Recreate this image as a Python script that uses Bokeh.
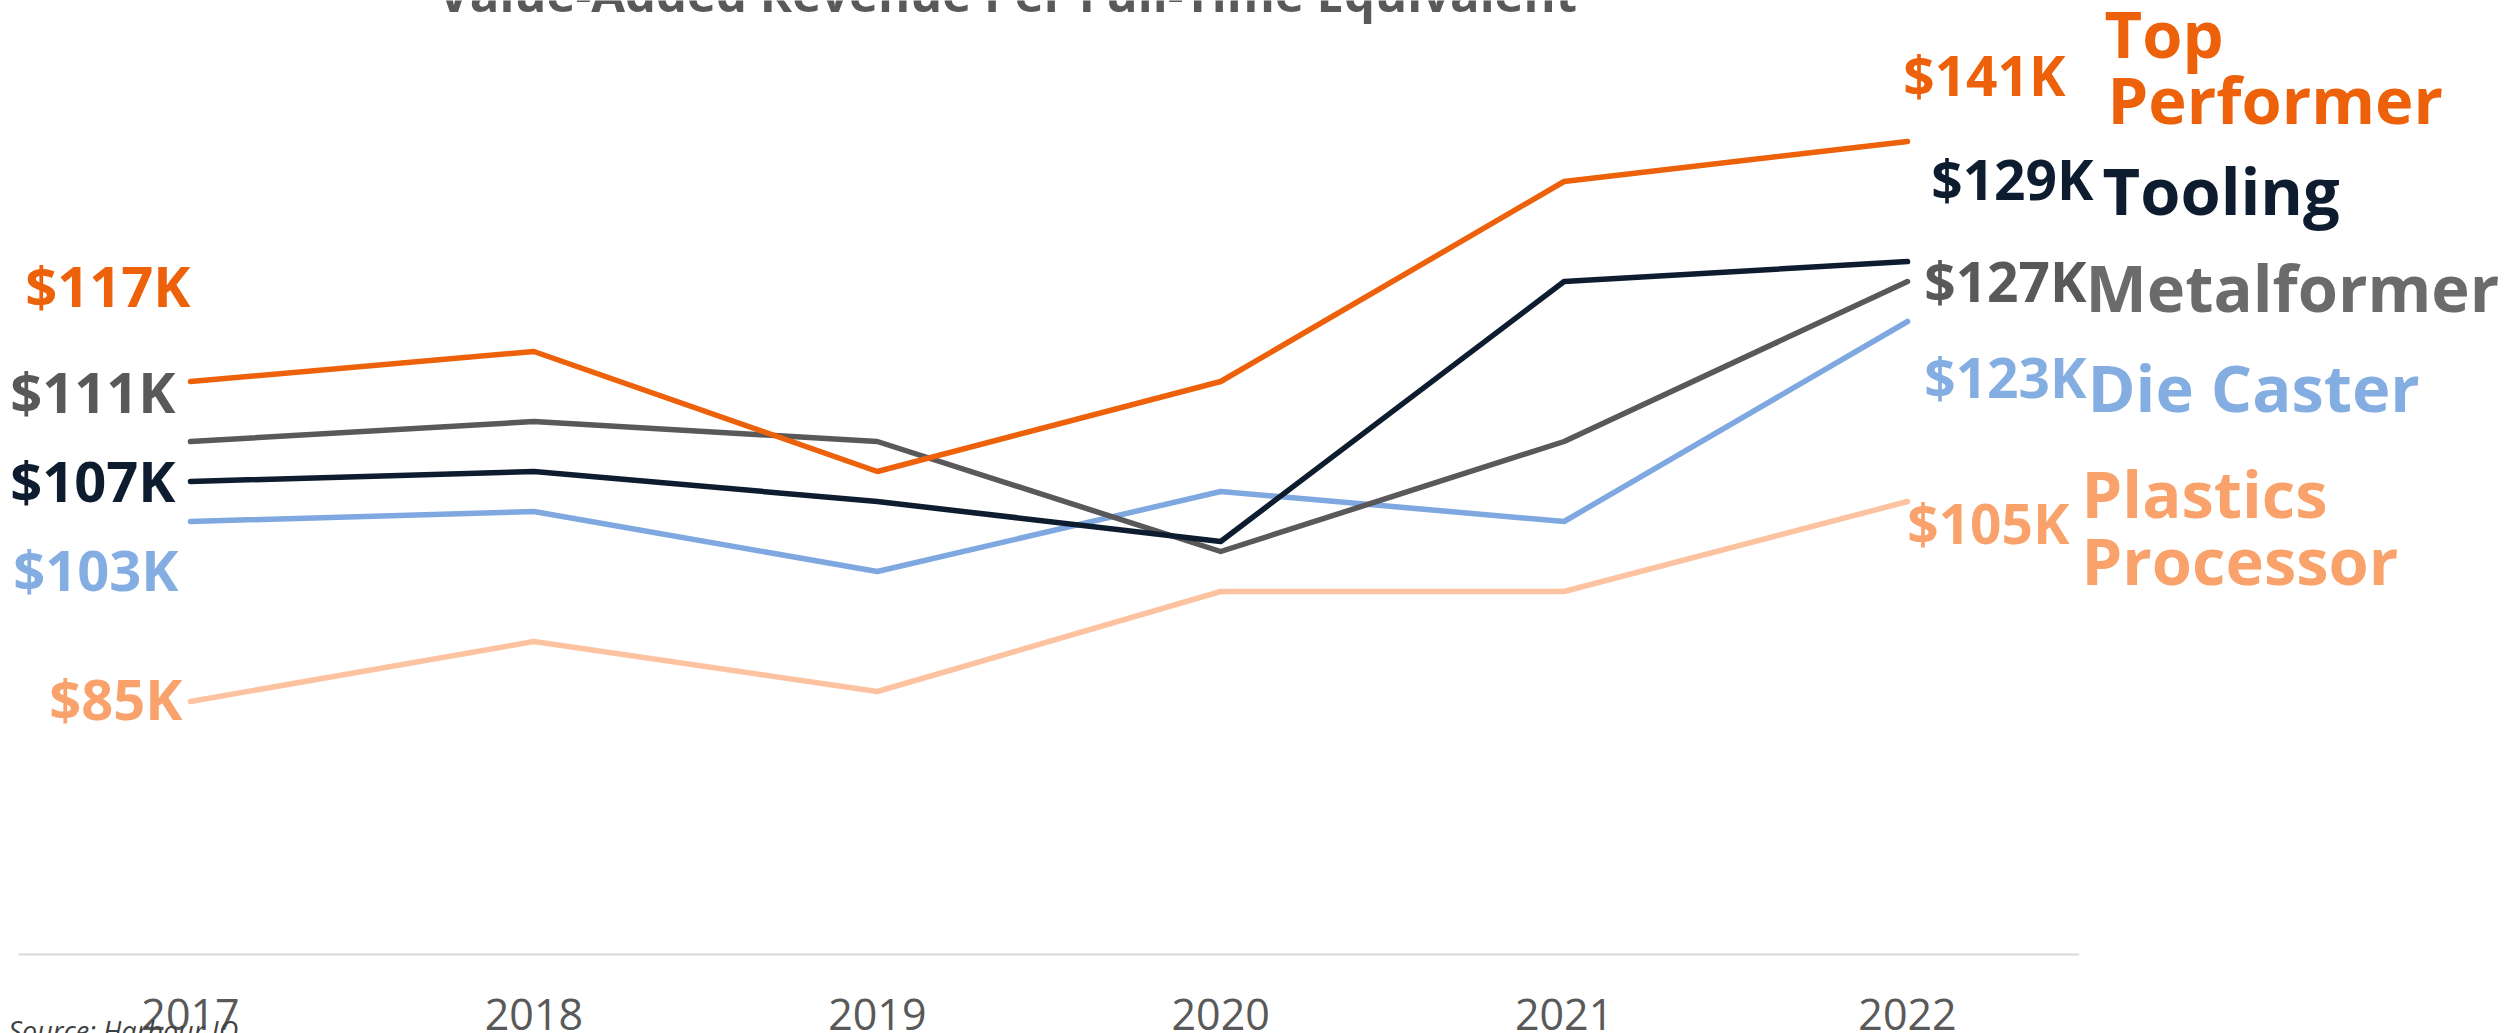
from bokeh.plotting import figure
from bokeh.models import ColumnDataSource, Range1d, Label
from bokeh.core.properties import value
from bokeh.embed import file_html
from bokeh.resources import INLINE

# ---------------- data ----------------
years = [2017, 2018, 2019, 2020, 2021, 2022]
year_labels = ["2017", "2018", "2019", "2020", "2021", "2022"]

series_names = ["Top Performer", "Tooling", "Metalformer", "Die Caster", "Plastics Processor"]
top_performer = [117, 120, 108, 117, 137, 141]
tooling = [107, 108, 105, 101, 127, 129]
metalformer = [111, 113, 111, 100, 111, 127]
die_caster = [103, 104, 98, 106, 103, 123]
plastics_processor = [85, 91, 86, 96, 96, 105]

title_text = "Value-Added Revenue Per Full-Time Equivalent"
source_text = "Source: Harbour IQ"

# ---------------- styling ----------------
series_values = [top_performer, tooling, metalformer, die_caster, plastics_processor]
line_colors = ["#EC610A", "#0E1C2F", "#595959", "#7EA8DF", "#FDC2A0"]
value_colors = ["#EC610A", "#0E1C2F", "#595959", "#84AEE2", "#F9A26B"]
name_colors = ["#EC610A", "#0E1C2F", "#6B6B6B", "#84AEE2", "#F9A26B"]

# label offsets in screen pixels (x right, y down), same order as series_names
left_xoff = [0, -15, -15, -12, -8]
left_yoff = [-97, -2, -51, 47, -4]
right_val_xoff = [158, 186, 179, 179, 162]
right_val_yoff = [-67, -83, -1, 55, 21]
wrapped = [["Top", "Performer"], ["Tooling"], ["Metalformer"], ["Die Caster"], ["Plastics", "Processor"]]
name_lines_xoff = [[197, 200], [195], [178], [180], [174, 174]]
name_lines_yoff = [[-109, -43], [-72], [5], [65], [-9, 58]]

W, H = 2517, 1033
PX_PER_YEAR = 343.4
X_FIRST_PX = 190.0
PX_PER_K = 10.0
AXIS_PX = 954.0                      # y of the category axis line
Y_TOP_VAL = 117 + 381 / PX_PER_K     # value at top edge

x0 = years[0] - X_FIRST_PX / PX_PER_YEAR
x1 = x0 + W / PX_PER_YEAR
y1 = Y_TOP_VAL
y0 = y1 - H / PX_PER_K
axis_val = y1 - AXIS_PX / PX_PER_K
axis_lo = years[0] - 0.5             # category axis spans half a category beyond the ends
axis_hi = years[-1] + 0.5

p = figure(width=W, height=H, x_range=Range1d(x0, x1), y_range=Range1d(y0, y1),
           output_backend="svg", toolbar_location=None, min_border=0,
           x_axis_location=None, y_axis_location=None)
p.outline_line_color = None
p.grid.visible = False
p.background_fill_color = "white"
p.border_fill_color = "white"

# category axis line and year labels
p.segment(x0=[axis_lo], y0=[axis_val], x1=[axis_hi], y1=[axis_val],
          line_color="#D9D9D9", line_width=2)
p.text(x=years, y=[axis_val] * len(years), text=year_labels, y_offset=60,
       text_align="center", text_baseline="alphabetic", text_color="#595959",
       text_font=value("Open Sans"), text_font_size="43px")

# lines (drawn bottom to top)
for idx in [4, 3, 2, 1, 0]:
    p.line(years, series_values[idx], line_color=line_colors[idx], line_width=5.5,
           line_cap="round", line_join="round")

# left value labels
src_left = ColumnDataSource(dict(
    x=[years[0]] * 5,
    y=[v[0] for v in series_values],
    text=[f"${v[0]}K" for v in series_values],
    color=value_colors, xo=left_xoff, yo=left_yoff))
p.text(x="x", y="y", text="text", source=src_left, text_color="color",
       x_offset="xo", y_offset="yo", text_align="right", text_baseline="alphabetic",
       text_font=value("Open Sans"), text_font_style="bold", text_font_size="56px")

# right value labels
src_right = ColumnDataSource(dict(
    x=[years[-1]] * 5,
    y=[v[-1] for v in series_values],
    text=[f"${v[-1]}K" for v in series_values],
    color=value_colors, xo=right_val_xoff, yo=right_val_yoff))
p.text(x="x", y="y", text="text", source=src_right, text_color="color",
       x_offset="xo", y_offset="yo", text_align="right", text_baseline="alphabetic",
       text_font=value("Open Sans"), text_font_style="bold", text_font_size="55px")

# series names (wrapped to lines as in the original)
name_rows = dict(x=[], y=[], text=[], color=[], xo=[], yo=[])
for i, parts in enumerate(wrapped):
    for j, part in enumerate(parts):
        name_rows["x"].append(years[-1])
        name_rows["y"].append(series_values[i][-1])
        name_rows["text"].append(part)
        name_rows["color"].append(name_colors[i])
        name_rows["xo"].append(name_lines_xoff[i][j])
        name_rows["yo"].append(name_lines_yoff[i][j])
p.text(x="x", y="y", text="text", source=ColumnDataSource(name_rows), text_color="color",
       x_offset="xo", y_offset="yo", text_align="left", text_baseline="alphabetic",
       text_font=value("Open Sans"), text_font_style="bold", text_font_size="65px")

# title (partly cut by the top edge) and source note (partly cut by the bottom edge)
p.add_layout(Label(x=1007, y=H + 8, x_units="screen", y_units="screen",
                   text=title_text, text_align="center", text_baseline="alphabetic",
                   text_font="Open Sans", text_font_style="bold", text_font_size="49px",
                   text_color="#595959"))
p.add_layout(Label(x=8, y=3, x_units="screen", y_units="screen",
                   text=source_text, text_align="left", text_baseline="alphabetic",
                   text_font="Open Sans", text_font_style="italic", text_font_size="27px",
                   text_color="#404040"))

open("out.html", "w").write(file_html(p, INLINE))
